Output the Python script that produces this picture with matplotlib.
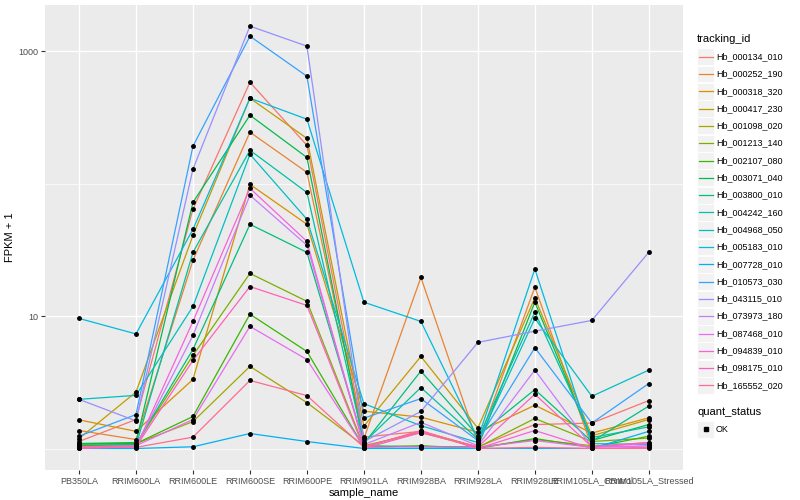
import numpy as np
import matplotlib
matplotlib.use('Agg')
import matplotlib.pyplot as plt
from matplotlib.patches import Rectangle
from matplotlib.lines import Line2D

plt.rcParams['font.family'] = ['Liberation Sans', 'DejaVu Sans']

# muestras (eje x)
samples = ['PB350LA', 'RRIM600LA', 'RRIM600LE', 'RRIM600SE', 'RRIM600PE',
           'RRIM901LA', 'RRIM928BA', 'RRIM928LA', 'RRIM928LE',
           'RRIM105LA_Control', 'RRIM105LA_Stressed']

# FPKM + 1 por gen, en el orden de samples
hb_000134_010 = [1.14, 1.67, 64.3, 583, 195, 1.23, 1.36, 1.04, 1.53, 1.57, 2.32]
hb_000252_190 = [1.38, 1.18, 26.5, 245, 122, 1.20, 19.7, 1.10, 16.6, 1.04, 1.12]
hb_000318_320 = [1.66, 1.36, 3.35, 99, 49.5, 1.93, 1.74, 1.34, 2.14, 1.32, 1.72]
hb_000417_230 = [1.20, 2.69, 40.8, 442, 220, 1.49, 4.99, 1.44, 13.8, 1.26, 1.67]
hb_001098_020 = [1.08, 1.10, 1.61, 4.20, 2.24, 1.06, 1.33, 1.03, 1.18, 1.06, 1.03]
hb_001213_140 = [1.06, 1.08, 5.08, 21.1, 13.0, 1.04, 1.36, 1.03, 1.70, 1.14, 1.21]
hb_002107_080 = [1.10, 1.10, 1.76, 10.4, 5.44, 1.03, 1.06, 1.01, 1.20, 1.03, 1.25]
hb_003071_040 = [1.10, 1.12, 72.4, 329, 158, 1.06, 1.04, 1.04, 12.8, 1.16, 1.53]
hb_003800_010 = [1.06, 1.08, 5.64, 49.5, 30.4, 1.10, 3.87, 1.26, 2.81, 1.14, 2.11]
hb_004242_160 = [1.04, 1.06, 30.4, 179, 86, 1.12, 2.91, 1.19, 10.8, 1.22, 1.47]
hb_004968_050 = [2.37, 2.54, 11.9, 167, 54, 2.20, 1.50, 1.12, 9.66, 2.50, 3.94]
hb_005183_010 = [9.66, 7.38, 45.4, 442, 307, 12.8, 9.17, 1.20, 22.8, 1.10, 1.08]
hb_007728_010 = [1.01, 1.01, 1.04, 1.31, 1.14, 1.01, 1.01, 1.01, 1.01, 1.01, 1.36]
hb_010573_030 = [1.25, 1.82, 192, 1297, 647, 1.71, 2.40, 1.16, 5.81, 1.57, 3.12]
hb_043115_010 = [2.37, 1.63, 129, 1545, 1091, 1.14, 1.92, 6.37, 7.74, 9.33, 30.5]
hb_073973_180 = [1.03, 1.04, 7.19, 82, 34.4, 1.08, 1.59, 1.06, 3.94, 1.04, 1.10]
hb_087468_010 = [1.04, 1.06, 1.67, 8.41, 4.73, 1.03, 1.04, 1.03, 1.16, 1.03, 1.06]
hb_094839_010 = [1.03, 1.03, 9.17, 92.5, 36.8, 1.04, 1.36, 1.01, 1.38, 1.01, 1.03]
hb_098175_010 = [1.01, 1.04, 4.66, 16.8, 12.1, 1.01, 1.33, 1.04, 2.59, 1.04, 1.12]
hb_165552_020 = [1.04, 1.03, 1.23, 3.29, 2.53, 1.03, 1.38, 1.01, 1.03, 1.01, 1.01]

tracking_ids = ['Hb_000134_010', 'Hb_000252_190', 'Hb_000318_320', 'Hb_000417_230',
                'Hb_001098_020', 'Hb_001213_140', 'Hb_002107_080', 'Hb_003071_040',
                'Hb_003800_010', 'Hb_004242_160', 'Hb_004968_050', 'Hb_005183_010',
                'Hb_007728_010', 'Hb_010573_030', 'Hb_043115_010', 'Hb_073973_180',
                'Hb_087468_010', 'Hb_094839_010', 'Hb_098175_010', 'Hb_165552_020']
series = [hb_000134_010, hb_000252_190, hb_000318_320, hb_000417_230,
          hb_001098_020, hb_001213_140, hb_002107_080, hb_003071_040,
          hb_003800_010, hb_004242_160, hb_004968_050, hb_005183_010,
          hb_007728_010, hb_010573_030, hb_043115_010, hb_073973_180,
          hb_087468_010, hb_094839_010, hb_098175_010, hb_165552_020]

# paleta hue de ggplot para 20 niveles
colors = ['#F8766D', '#EA8331', '#D89000', '#C09B00', '#A3A500', '#7CAE00',
          '#39B600', '#00BB4E', '#00BF7D', '#00C1A3', '#00BFC4', '#00BAE0',
          '#00B0F6', '#35A2FF', '#9590FF', '#C77CFF', '#E76BF3', '#FA62DB',
          '#FF62BC', '#FF6C91']

W, H = 800, 500
fig = plt.figure(figsize=(8, 5), dpi=100)
ax = fig.add_axes([44.8 / W, 30.4 / H, 638.2 / W, 464.6 / H])
ax.set_facecolor('#EBEBEB')

x = np.arange(len(samples))
for vals, c in zip(series, colors):
    ax.plot(x, vals, color=c, lw=0.9, zorder=3)
for vals in series:
    ax.plot(x, vals, 'o', color='black', ms=2.5, zorder=4, lw=0)

ax.set_yscale('log')
allv = np.concatenate([np.array(s) for s in series])
lo, hi = np.log10(allv.min()), np.log10(allv.max())
pad = (hi - lo) * 0.05
ax.set_ylim(10 ** (lo - pad), 10 ** (hi + pad))
ax.set_xlim(-0.6, len(samples) - 0.4)

ax.set_yticks([10, 1000])
ax.set_yticklabels(['10', '1000'])
ax.set_yticks([1, 100], minor=True)
ax.yaxis.set_minor_formatter(matplotlib.ticker.NullFormatter())
ax.set_xticks(x)
ax.set_xticklabels(samples)

ax.grid(True, which='major', color='white', lw=1.0, zorder=0)
ax.grid(True, which='minor', axis='y', color='white', lw=0.5, zorder=0)
ax.set_axisbelow(True)
for s in ax.spines.values():
    s.set_visible(False)
ax.tick_params(which='major', length=3, width=0.8, color='#333333',
               labelsize=6.5, labelcolor='#4D4D4D', pad=2)
ax.tick_params(which='minor', length=0)

ax.set_xlabel('sample_name', fontsize=8, labelpad=2)
ax.set_ylabel('FPKM + 1', fontsize=8, labelpad=2)

# leyenda dibujada a mano (estilo ggplot)
def fx(px):
    return px / W

def fy(py):
    return 1 - py / H

fig.text(fx(697), fy(39), 'tracking_id', fontsize=8, va='center', ha='left')
step = 17.3
for i, (name, c) in enumerate(zip(tracking_ids, colors)):
    cy = 56.7 + i * step
    fig.add_artist(Rectangle((fx(697), fy(cy + 8.4)), 17 / W, 16.8 / H,
                             transform=fig.transFigure, facecolor='#F2F2F2',
                             edgecolor='white', lw=0.6))
    fig.add_artist(Line2D([fx(698.5), fx(712.5)], [fy(cy), fy(cy)],
                          transform=fig.transFigure, color=c, lw=0.9))
    fig.text(fx(716), fy(cy), name, fontsize=6.5, va='center', ha='left')

fig.text(fx(697), fy(412), 'quant_status', fontsize=8, va='center', ha='left')
fig.add_artist(Rectangle((fx(697), fy(437.5)), 17 / W, 16.8 / H,
                         transform=fig.transFigure, facecolor='#F2F2F2',
                         edgecolor='white', lw=0.6))
fig.add_artist(Line2D([fx(705.5)], [fy(429)], transform=fig.transFigure,
                      marker='s', color='black', ms=2.4, lw=0))
fig.text(fx(716), fy(429), 'OK', fontsize=6.5, va='center', ha='left')

fig.savefig('out.png', dpi=100)
